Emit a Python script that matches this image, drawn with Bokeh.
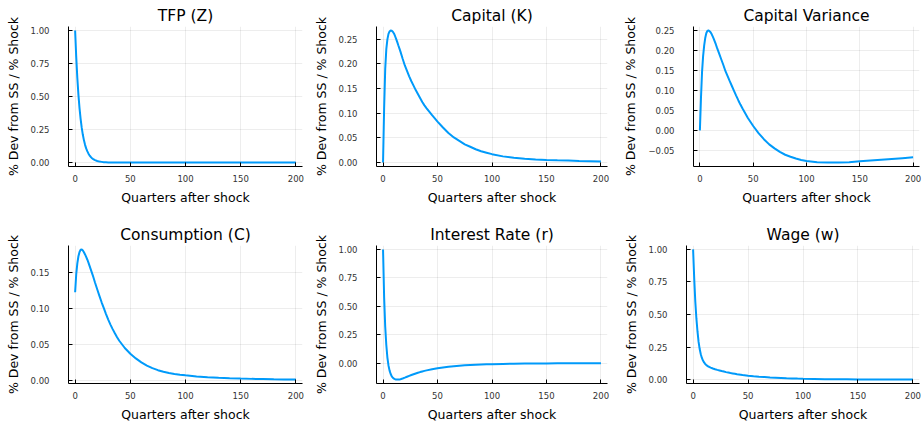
from bokeh.plotting import figure
from bokeh.layouts import column, row
from bokeh.models import FixedTicker, DataRange1d
from bokeh.embed import file_html
from bokeh.resources import INLINE

# ---- data ----
QUARTERS = [0, 1, 2, 3, 4, 5, 6, 7, 8, 9, 10, 11, 12, 13, 14, 15, 16,
            18, 20, 22, 24, 26, 28, 30, 32, 34, 36, 38, 40,
            45, 50, 55, 60, 65, 70, 75, 80, 85, 90, 95, 100,
            110, 120, 130, 140, 150, 160, 170, 180, 190, 200]

TFP_Z = [1.0, 0.8, 0.64, 0.512, 0.41, 0.328, 0.262, 0.21, 0.168, 0.134, 0.107, 0.086,
         0.069, 0.055, 0.044, 0.035, 0.028,
         0.018, 0.012, 0.007, 0.005, 0.003, 0.002, 0.001, 0.0008, 0.0005, 0.0003, 0.0002, 0.0001,
         0.0, 0.0, 0.0, 0.0, 0.0, 0.0, 0.0, 0.0, 0.0, 0.0, 0.0, 0.0,
         0.0, 0.0, 0.0, 0.0, 0.0, 0.0, 0.0, 0.0, 0.0, 0.0]

CAPITAL_K = [0.0, 0.11, 0.19, 0.23, 0.25, 0.261, 0.266, 0.268, 0.2675, 0.2655, 0.262,
             0.2568, 0.251, 0.2448, 0.238, 0.2317, 0.225,
             0.2105, 0.197, 0.186, 0.175, 0.165, 0.156, 0.147, 0.139, 0.131, 0.123, 0.116, 0.11,
             0.096, 0.083, 0.071, 0.06, 0.051, 0.044, 0.037, 0.032, 0.027, 0.023, 0.02, 0.017,
             0.0125, 0.0095, 0.0077, 0.0064, 0.0054, 0.0046, 0.0039, 0.0032, 0.0026, 0.002]

CAPITAL_VAR = [0.0, 0.08, 0.145, 0.185, 0.212, 0.231, 0.243, 0.249, 0.25, 0.2485, 0.2455,
               0.241, 0.235, 0.229, 0.222, 0.215, 0.207,
               0.1925, 0.178, 0.1635, 0.148, 0.1355, 0.123, 0.111, 0.099, 0.087, 0.0755,
               0.0645, 0.0545,
               0.031, 0.011, -0.007, -0.022, -0.035, -0.045, -0.054, -0.061, -0.066, -0.0705,
               -0.074, -0.0765,
               -0.0795, -0.0805, -0.0805, -0.0795, -0.0775, -0.0755, -0.0735, -0.0715,
               -0.0695, -0.0675]

CONSUMPTION_C = [0.122, 0.147, 0.162, 0.172, 0.178, 0.181, 0.1815, 0.18, 0.1775, 0.1745,
                 0.171, 0.1675, 0.1635, 0.159, 0.1545, 0.15, 0.1455,
                 0.1355, 0.1262, 0.117, 0.108, 0.1, 0.0917, 0.084, 0.077, 0.0707, 0.065,
                 0.0595, 0.0546,
                 0.0445, 0.0365, 0.03, 0.0245, 0.02, 0.0165, 0.0137, 0.0115, 0.0098, 0.0085,
                 0.0074, 0.0065,
                 0.005, 0.004, 0.0031, 0.0025, 0.002, 0.0016, 0.0013, 0.001, 0.0008, 0.0006]

INTEREST_R = [1.0, 0.58, 0.32, 0.16, 0.05, -0.02, -0.065, -0.095, -0.115, -0.128, -0.136,
              -0.1405, -0.143, -0.144, -0.1438, -0.1425, -0.1405,
              -0.1345, -0.127, -0.119, -0.111, -0.1035, -0.0965, -0.09, -0.084, -0.078,
              -0.0725, -0.0675, -0.063,
              -0.053, -0.045, -0.038, -0.032, -0.027, -0.0225, -0.019, -0.016, -0.0135,
              -0.0115, -0.0098, -0.0083,
              -0.006, -0.0043, -0.0031, -0.0023, -0.0017, -0.0012, -0.0009, -0.0007,
              -0.0005, -0.0004]

WAGE_W = [1.0, 0.78, 0.6, 0.47, 0.37, 0.29, 0.235, 0.195, 0.167, 0.147, 0.132, 0.121,
          0.113, 0.106, 0.101, 0.097, 0.093,
          0.086, 0.08, 0.075, 0.0705, 0.066, 0.062, 0.058, 0.0545, 0.051, 0.048, 0.045, 0.042,
          0.036, 0.031, 0.0265, 0.023, 0.02, 0.017, 0.015, 0.013, 0.011, 0.0095, 0.0082, 0.007,
          0.0055, 0.004, 0.003, 0.0025, 0.002, 0.0016, 0.0013, 0.001, 0.0008, 0.0006]

TITLES = ["TFP (Z)", "Capital (K)", "Capital Variance",
          "Consumption (C)", "Interest Rate (r)", "Wage (w)"]

X_TICKS = [0, 50, 100, 150, 200]
X_TICK_LABELS = ["0", "50", "100", "150", "200"]

Y_TICKS_UNIT = [0.0, 0.25, 0.5, 0.75, 1.0]
Y_LABELS_UNIT = ["0.00", "0.25", "0.50", "0.75", "1.00"]
Y_TICKS_CAP = [0.0, 0.05, 0.10, 0.15, 0.20, 0.25]
Y_LABELS_CAP = ["0.00", "0.05", "0.10", "0.15", "0.20", "0.25"]
Y_TICKS_VAR = [-0.05, 0.0, 0.05, 0.10, 0.15, 0.20, 0.25]
Y_LABELS_VAR = ["\u22120.05", "0.00", "0.05", "0.10", "0.15", "0.20", "0.25"]
Y_TICKS_CONS = [0.0, 0.05, 0.10, 0.15]
Y_LABELS_CONS = ["0.00", "0.05", "0.10", "0.15"]

X_LABEL = "Quarters after shock"
Y_LABEL = "% Dev from SS / % Shock"

# ---- styling ----
FONT = "DejaVu Sans"
LINE_COLOR = "#009AFA"
COL_SPECS = [dict(w=310, left=68, right=8),
             dict(w=310, left=63, right=13),
             dict(w=304, left=65, right=5)]
ROW_SPECS = [dict(h=212, top=26, bottom=46),
             dict(h=212, top=33, bottom=38)]


def make_panel(title, ys, yticks, ylabels, col, rw):
    cs = COL_SPECS[col]
    rs = ROW_SPECS[rw]
    p = figure(width=cs["w"], height=rs["h"],
               min_border_left=cs["left"], min_border_right=cs["right"],
               min_border_top=rs["top"], min_border_bottom=rs["bottom"],
               x_range=DataRange1d(range_padding=0.06),
               y_range=DataRange1d(range_padding=0.06),
               output_backend="svg", toolbar_location=None)
    p.line(QUARTERS, ys, line_color=LINE_COLOR, line_width=2)

    p.title.text = title
    p.title.align = "center"
    p.title.text_font = FONT
    p.title.text_font_size = "15.5px"
    p.title.text_font_style = "normal"
    p.title.text_color = "#000000"
    p.title.standoff = 3

    p.outline_line_color = None
    p.background_fill_color = "white"
    p.border_fill_color = "white"

    p.xaxis.ticker = FixedTicker(ticks=X_TICKS)
    p.xaxis.major_label_overrides = {t: l for t, l in zip(X_TICKS, X_TICK_LABELS)}
    p.yaxis.ticker = FixedTicker(ticks=yticks)
    p.yaxis.major_label_overrides = {t: l for t, l in zip(yticks, ylabels)}

    p.xaxis.axis_label = X_LABEL
    p.yaxis.axis_label = Y_LABEL
    for ax in (p.xaxis, p.yaxis):
        ax.axis_label_text_font = FONT
        ax.axis_label_text_font_size = "12.5px"
        ax.axis_label_text_font_style = "normal"
        ax.axis_label_text_color = "#000000"
        ax.major_label_text_font = FONT
        ax.major_label_text_font_size = "8.5px"
        ax.major_label_text_color = "#333333"
        ax.axis_line_color = "#000000"
        ax.axis_line_width = 1
        ax.major_tick_line_color = "#000000"
        ax.major_tick_in = 4
        ax.major_tick_out = 0
        ax.minor_tick_line_color = None
    p.xaxis.major_label_standoff = 8
    p.xaxis.axis_label_standoff = 5
    p.yaxis.major_label_standoff = 19
    p.yaxis.axis_label_standoff = 7

    p.grid.grid_line_color = "#000000"
    p.grid.grid_line_alpha = 0.07
    p.grid.grid_line_width = 1
    return p


SERIES = [TFP_Z, CAPITAL_K, CAPITAL_VAR, CONSUMPTION_C, INTEREST_R, WAGE_W]
TICKS = [(Y_TICKS_UNIT, Y_LABELS_UNIT), (Y_TICKS_CAP, Y_LABELS_CAP),
         (Y_TICKS_VAR, Y_LABELS_VAR), (Y_TICKS_CONS, Y_LABELS_CONS),
         (Y_TICKS_UNIT, Y_LABELS_UNIT), (Y_TICKS_UNIT, Y_LABELS_UNIT)]

panels = []
for i, (t, s, (yt, yl)) in enumerate(zip(TITLES, SERIES, TICKS)):
    panels.append(make_panel(t, s, yt, yl, i % 3, i // 3))

layout = column(row(*panels[:3]), row(*panels[3:]))

open("out.html", "w").write(file_html(layout, INLINE))
